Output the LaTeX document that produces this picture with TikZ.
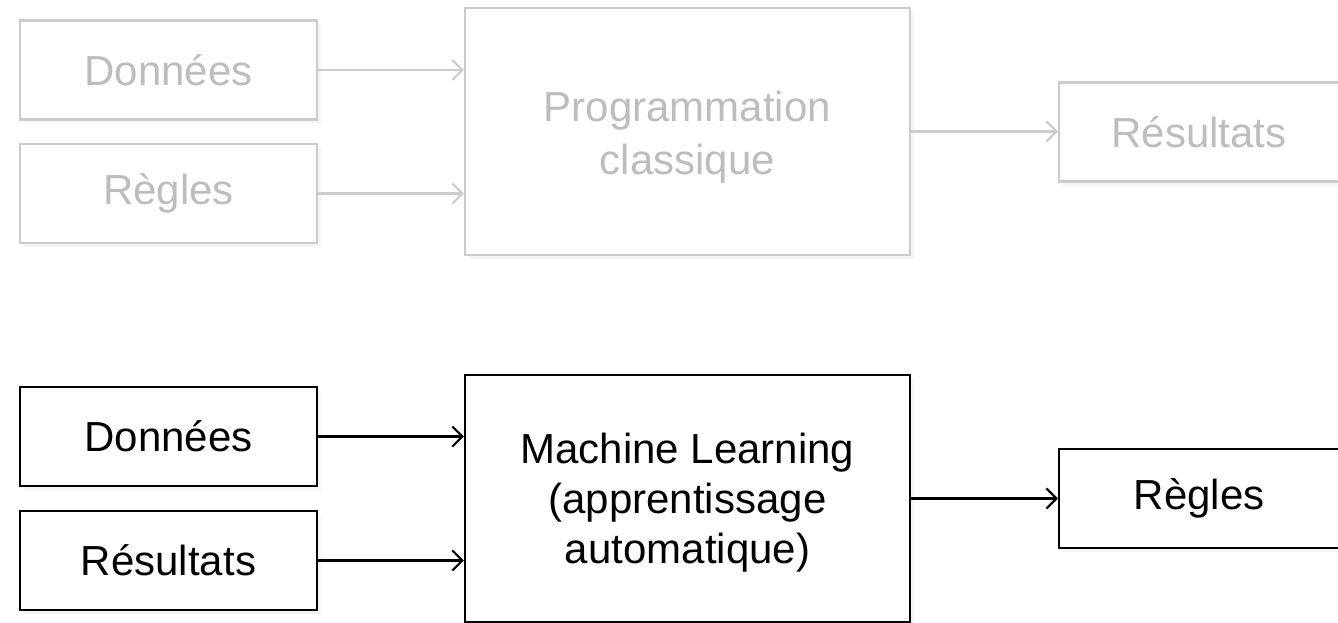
\documentclass[tikz,border=0pt]{standalone}
\usepackage{fontspec}
\setmainfont{Liberation Sans}
\usepackage{xcolor}
\usetikzlibrary{arrows.meta,calc,positioning,shadows}

\definecolor{paleline}{HTML}{CCCCCC}
\definecolor{paletext}{HTML}{BDBDBD}

\begin{document}
\begin{tikzpicture}[x=1pt,y=-1pt,
  box/.style={draw,fill=white,line width=2.2pt,inner sep=0pt,align=center,
    font=\fontsize{42}{51}\selectfont,
    drop shadow={opacity=.08,shadow xshift=4pt,shadow yshift=-4pt}},
  small/.style={box,minimum width=297pt,minimum height=99pt},
  big/.style={box,minimum width=445pt,minimum height=247pt},
  pale/.style={draw=paleline,text=paletext},
  link/.style={-{Straight Barb[length=10pt,width=20pt]},line width=2.2pt}]
\clip (0,0) rectangle (1338,623);
\fill[white] (0,0) rectangle (1338,623);
% classic programming (faded)
\node[small,pale] (donA) at (168.5,70) {Données};
\node[small,pale] (regA) at (168.5,193.5) {Règles};
\node[big,pale] (prog) at (687.5,131.5) {};
\node[align=center,text=paletext,font=\fontsize{42}{53}\selectfont]
  (progtxt) at ([yshift=-6pt]prog.center) {Programmation\\classique};
\node[small,pale,anchor=west,minimum width=330pt] (resA) at (1058,132) {\hspace*{-50pt}Résultats};
\draw[link,paleline] (donA) -- (donA -| prog.west);
\draw[link,paleline] (regA) -- (regA -| prog.west);
\draw[link,paleline] (prog) -- (prog -| resA.west);
% machine learning
\node[small] (donB) at (168.5,436.5) {Données};
\node[small] (resB) at (168.5,560.5) {Résultats};
\node[big] (ml) at (687.5,498.5) {};
\node[align=center,font=\fontsize{42}{50}\selectfont]
  (mltxt) at ([yshift=-4pt]ml.center) {Machine Learning\\(apprentissage\\automatique)};
\node[small,anchor=west,minimum width=330pt] (regB) at (1058,498.5) {\hspace*{-50pt}Règles};
\draw[link] (donB) -- (donB -| ml.west);
\draw[link] (resB) -- (resB -| ml.west);
\draw[link] (ml) -- (ml -| regB.west);
\end{tikzpicture}
\end{document}
